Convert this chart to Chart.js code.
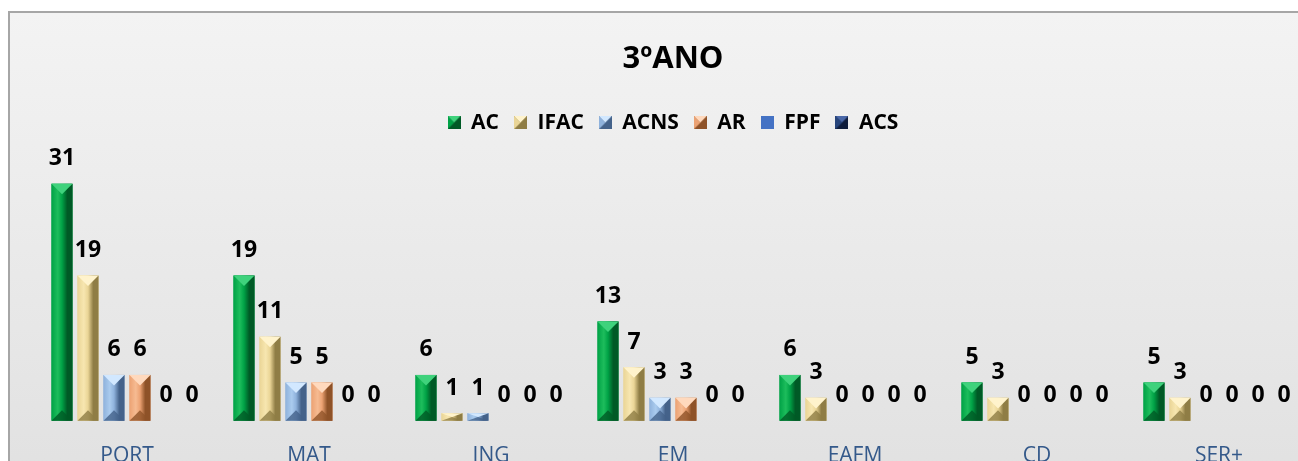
<!DOCTYPE html>
<html>
<head>
<meta charset="utf-8">
<script src="https://cdn.jsdelivr.net/npm/chart.js@4.4.1/dist/chart.umd.min.js"></script>
<style>
    html, body { margin: 0; padding: 0; background: #fff; overflow: hidden; }
    #frame {
        position: absolute; left: 8px; top: 11px;
        width: 1320px; height: 471px;
        border-top: 2px solid #a6a6a6; border-left: 2px solid #a6a6a6;
        background: linear-gradient(#f3f3f3, #e1e1e1);
    }
</style>
</head>
<body>
<div id="frame"><canvas id="chart" width="1320" height="471"></canvas></div>
<script>
    var categories = ['PORT', 'MAT', 'ING', 'EM', 'EAFM', 'CD', 'SER+'];
    var seriesNames = ['AC', 'IFAC', 'ACNS', 'AR', 'FPF', 'ACS'];
    var AC   = [31, 19, 6, 13, 6, 5, 5];
    var IFAC = [19, 11, 1, 7, 3, 3, 3];
    var ACNS = [6, 5, 1, 3, 0, 0, 0];
    var AR   = [6, 5, 0, 3, 0, 0, 0];
    var FPF  = [0, 0, 0, 0, 0, 0, 0];
    var ACS  = [0, 0, 0, 0, 0, 0, 0];

    // dark, mid, light, top
    var palettes = [
        ['#005a26', '#00a246', '#1dbd5c', '#3fd27c'],
        ['#8f7d45', '#ead596', '#f7e6b0', '#fff3cc'],
        ['#44628a', '#8fb2dc', '#aacbee', '#d2e8ff'],
        ['#8e5228', '#eca273', '#f6bb92', '#ffd9bd'],
        ['#4472c4', '#4472c4', '#4472c4', '#4472c4'],
        ['#0f1d3c', '#27457c', '#355796', '#4a68a8']
    ];

    function legendIcon(p, flat) {
        var c = document.createElement('canvas');
        c.width = 13; c.height = 13;
        var g = c.getContext('2d');
        if (flat) {
            g.fillStyle = p[1]; g.fillRect(0, 0, 13, 13);
            return c;
        }
        g.fillStyle = p[0]; g.fillRect(0, 0, 13, 13);
        g.fillStyle = p[3];
        g.beginPath(); g.moveTo(0, 0); g.lineTo(13, 0); g.lineTo(6.5, 6.5); g.closePath(); g.fill();
        g.fillStyle = p[1];
        g.beginPath(); g.moveTo(0, 0); g.lineTo(6.5, 6.5); g.lineTo(0, 13); g.closePath(); g.fill();
        g.fillStyle = p[0];
        g.beginPath(); g.moveTo(13, 0); g.lineTo(6.5, 6.5); g.lineTo(13, 13); g.closePath(); g.fill();
        return c;
    }

    var values = [AC, IFAC, ACNS, AR, FPF, ACS];
    var datasets = seriesNames.map(function (name, i) {
        return {
            label: name,
            data: values[i],
            backgroundColor: palettes[i][1],
            borderWidth: 0,
            pointStyle: legendIcon(palettes[i], i === 4),
            categoryPercentage: 0.857,
            barPercentage: 0.81
        };
    });

    var bevelPlugin = {
        id: 'bevel',
        afterDatasetsDraw: function (chart) {
            var ctx = chart.ctx;
            chart.data.datasets.forEach(function (ds, di) {
                var p = palettes[di];
                chart.getDatasetMeta(di).data.forEach(function (bar, k) {
                    var w = bar.width, h = bar.base - bar.y;
                    if (h < 0.5) return;
                    var l = bar.x - w / 2, r = bar.x + w / 2;
                    var b = Math.min(w / 2, h / 2);
                    ctx.save();
                    var g = ctx.createLinearGradient(l, 0, r, 0);
                    g.addColorStop(0, p[1]);
                    g.addColorStop(0.3, p[2]);
                    g.addColorStop(0.5, p[1]);
                    g.addColorStop(0.75, p[0]);
                    g.addColorStop(1, p[0]);
                    ctx.fillStyle = g;
                    ctx.fillRect(l, bar.y, w, h);
                    ctx.fillStyle = p[3];
                    ctx.beginPath(); ctx.moveTo(l, bar.y); ctx.lineTo(r, bar.y); ctx.lineTo(bar.x, bar.y + b); ctx.closePath(); ctx.fill();
                    ctx.fillStyle = p[0];
                    ctx.globalAlpha = 0.8;
                    ctx.beginPath(); ctx.moveTo(l, bar.base); ctx.lineTo(r, bar.base); ctx.lineTo(bar.x, bar.base - b); ctx.closePath(); ctx.fill();
                    ctx.restore();
                });
            });
        }
    };

    var labelPlugin = {
        id: 'valueLabels',
        afterDatasetsDraw: function (chart) {
            var ctx = chart.ctx;
            ctx.save();
            ctx.font = 'bold 23px "Open Sans"';
            ctx.fillStyle = '#000';
            ctx.textAlign = 'center';
            ctx.textBaseline = 'middle';
            chart.data.datasets.forEach(function (ds, di) {
                chart.getDatasetMeta(di).data.forEach(function (bar, k) {
                    ctx.fillText(String(ds.data[k]), bar.x, bar.y - 25);
                });
            });
            ctx.restore();
        }
    };

    // extra room under the legend
    var legendMargin = {
        id: 'legendMargin',
        beforeInit: function (chart) {
            var fit = chart.legend.fit;
            chart.legend.fit = function () {
                fit.bind(chart.legend)();
                this.height += 10;
            };
        }
    };

    new Chart(document.getElementById('chart'), {
        type: 'bar',
        data: { labels: categories, datasets: datasets },
        plugins: [bevelPlugin, labelPlugin, legendMargin],
        options: {
            responsive: false,
            animation: false,
            layout: { padding: { left: 26, right: 20, top: 0, bottom: 0 } },
            plugins: {
                title: {
                    display: true,
                    text: '3ºANO',
                    color: '#000',
                    font: { family: 'Open Sans', weight: 'bold', size: 31 },
                    padding: { top: 28, bottom: 19 }
                },
                legend: {
                    display: true,
                    labels: {
                        usePointStyle: true,
                        boxWidth: 13,
                        boxHeight: 13,
                        padding: 15,
                        color: '#000',
                        font: { family: 'Open Sans', weight: 'bold', size: 21 }
                    }
                },
                tooltip: { enabled: false }
            },
            scales: {
                x: {
                    grid: { display: false },
                    border: { display: false },
                    ticks: {
                        color: '#34598a',
                        padding: 15,
                        font: { family: 'Open Sans', size: 21 }
                    }
                },
                y: {
                    display: false,
                    min: 0,
                    max: 35
                }
            }
        }
    });
</script>
</body>
</html>
